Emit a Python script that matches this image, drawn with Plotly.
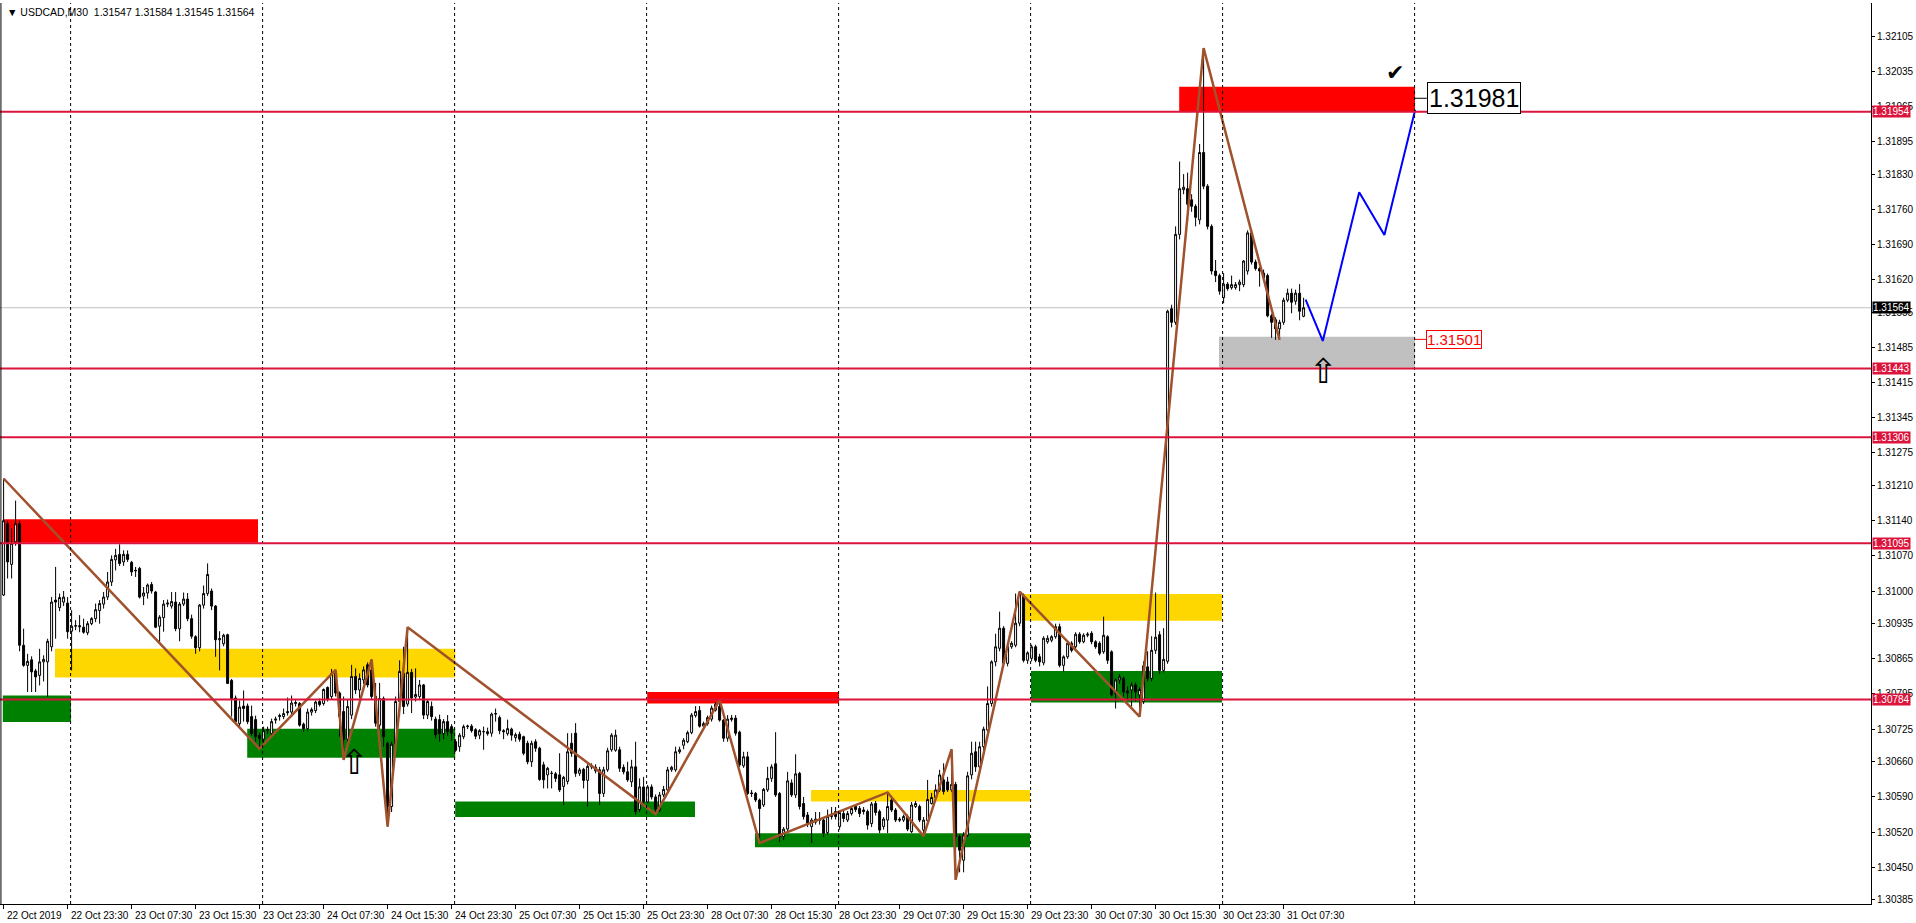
import plotly.graph_objects as go

# ---------------- data (USDCAD M30, bar index 0 = 22 Oct 15:30) ----------------
opens = [
 1.30992, 1.31134, 1.31053, 1.31098, 1.31134, 1.30892, 1.30852, 1.30863, 1.30841, 1.30832,
 1.30859, 1.30859, 1.30889, 1.30982, 1.30967, 1.30978, 1.30976, 1.30920, 1.30930, 1.30931,
 1.30928, 1.30917, 1.30935, 1.30945, 1.30961, 1.30974, 1.30988, 1.31018, 1.31062, 1.31073,
 1.31058, 1.31073, 1.31057, 1.31040, 1.31045, 1.30990, 1.30996, 1.31013, 1.30998, 1.30930,
 1.30947, 1.30974, 1.30970, 1.30978, 1.30925, 1.30974, 1.30984, 1.30945, 1.30909, 1.30887,
 1.30972, 1.30995, 1.31000, 1.30970, 1.30903, 1.30895, 1.30913, 1.30822, 1.30787, 1.30736,
 1.30771, 1.30771, 1.30750, 1.30744, 1.30713, 1.30705, 1.30722, 1.30716, 1.30743, 1.30750,
 1.30750, 1.30760, 1.30759, 1.30776, 1.30776, 1.30735, 1.30726, 1.30759, 1.30762, 1.30780,
 1.30776, 1.30808, 1.30790, 1.30836, 1.30797, 1.30760, 1.30705, 1.30753, 1.30830, 1.30803,
 1.30823, 1.30853, 1.30843, 1.30790, 1.30733, 1.30786, 1.30697, 1.30571, 1.30695, 1.30780,
 1.30836, 1.30775, 1.30838, 1.30789, 1.30790, 1.30813, 1.30753, 1.30770, 1.30745, 1.30744,
 1.30716, 1.30740, 1.30730, 1.30700, 1.30690, 1.30710, 1.30730, 1.30731, 1.30724, 1.30713,
 1.30720, 1.30720, 1.30717, 1.30755, 1.30748, 1.30722, 1.30716, 1.30725, 1.30708, 1.30715,
 1.30710, 1.30697, 1.30660, 1.30700, 1.30687, 1.30654, 1.30634, 1.30637, 1.30636, 1.30634,
 1.30611, 1.30621, 1.30697, 1.30717, 1.30637, 1.30645, 1.30623, 1.30651, 1.30649, 1.30644,
 1.30597, 1.30644, 1.30684, 1.30683, 1.30684, 1.30649, 1.30640, 1.30620, 1.30650, 1.30565,
 1.30610, 1.30580, 1.30610, 1.30590, 1.30564, 1.30594, 1.30604, 1.30644, 1.30644, 1.30680,
 1.30693, 1.30700, 1.30718, 1.30752, 1.30762, 1.30731, 1.30736, 1.30745, 1.30763, 1.30770,
 1.30743, 1.30707, 1.30744, 1.30747, 1.30719, 1.30652, 1.30670, 1.30598, 1.30597, 1.30584,
 1.30574, 1.30604, 1.30627, 1.30656, 1.30597, 1.30511, 1.30526, 1.30618, 1.30594, 1.30637,
 1.30577, 1.30554, 1.30531, 1.30540, 1.30544, 1.30544, 1.30519, 1.30551, 1.30561, 1.30531,
 1.30557, 1.30544, 1.30557, 1.30571, 1.30567, 1.30564, 1.30561, 1.30537, 1.30577, 1.30561,
 1.30531, 1.30544, 1.30584, 1.30564, 1.30546, 1.30544, 1.30551, 1.30521, 1.30571, 1.30571,
 1.30524, 1.30543, 1.30577, 1.30589, 1.30604, 1.30624, 1.30620, 1.30604, 1.30615, 1.30511,
 1.30464, 1.30514, 1.30634, 1.30680, 1.30650, 1.30690, 1.30723, 1.30776, 1.30859, 1.30886,
 1.30926, 1.30856, 1.30889, 1.30892, 1.30936, 1.30990, 1.30862, 1.30866, 1.30889, 1.30869,
 1.30857, 1.30899, 1.30902, 1.30909, 1.30929, 1.30852, 1.30869, 1.30896, 1.30889, 1.30914,
 1.30899, 1.30912, 1.30916, 1.30899, 1.30896, 1.30879, 1.30909, 1.30879, 1.30796, 1.30823,
 1.30826, 1.30801, 1.30803, 1.30813, 1.30793, 1.30780, 1.30849, 1.30826, 1.30882, 1.30913,
 1.30842, 1.30860, 1.31562, 1.31535, 1.31710, 1.31799, 1.31801, 1.31779, 1.31766, 1.31739,
 1.31873, 1.31806, 1.31726, 1.31637, 1.31628, 1.31584, 1.31611, 1.31604, 1.31604, 1.31610,
 1.31610, 1.31637, 1.31713, 1.31655, 1.31642, 1.31633, 1.31628, 1.31548, 1.31540, 1.31522,
 1.31535, 1.31579, 1.31593, 1.31577, 1.31593, 1.31547,
]
highs = [
 1.31224, 1.31140, 1.31125, 1.31180, 1.31140, 1.30925, 1.30875, 1.30870, 1.30845, 1.30885,
 1.30872, 1.30905, 1.30988, 1.31048, 1.30995, 1.31000, 1.30988, 1.30962, 1.30942, 1.30952,
 1.30945, 1.30940, 1.30948, 1.30975, 1.30982, 1.30998, 1.31038, 1.31071, 1.31084, 1.31093,
 1.31081, 1.31081, 1.31060, 1.31048, 1.31048, 1.31008, 1.31015, 1.31018, 1.31000, 1.30952,
 1.30982, 1.30983, 1.30998, 1.30998, 1.30978, 1.30997, 1.30996, 1.30953, 1.30912, 1.30974,
 1.31011, 1.31055, 1.31005, 1.30972, 1.30920, 1.30915, 1.30915, 1.30825, 1.30792, 1.30782,
 1.30802, 1.30776, 1.30772, 1.30752, 1.30718, 1.30730, 1.30730, 1.30746, 1.30750, 1.30756,
 1.30766, 1.30788, 1.30792, 1.30785, 1.30779, 1.30738, 1.30766, 1.30768, 1.30782, 1.30786,
 1.30806, 1.30810, 1.30845, 1.30843, 1.30800, 1.30790, 1.30785, 1.30853, 1.30846, 1.30836,
 1.30850, 1.30858, 1.30864, 1.30817, 1.30817, 1.30790, 1.30700, 1.30700, 1.30790, 1.30862,
 1.30889, 1.30928, 1.30845, 1.30846, 1.30823, 1.30815, 1.30785, 1.30780, 1.30750, 1.30754,
 1.30745, 1.30753, 1.30735, 1.30705, 1.30717, 1.30734, 1.30734, 1.30735, 1.30727, 1.30725,
 1.30730, 1.30728, 1.30758, 1.30766, 1.30752, 1.30725, 1.30744, 1.30728, 1.30718, 1.30720,
 1.30712, 1.30702, 1.30702, 1.30705, 1.30690, 1.30660, 1.30650, 1.30642, 1.30640, 1.30677,
 1.30632, 1.30717, 1.30717, 1.30737, 1.30648, 1.30648, 1.30655, 1.30657, 1.30655, 1.30650,
 1.30650, 1.30688, 1.30717, 1.30724, 1.30690, 1.30655, 1.30660, 1.30664, 1.30700, 1.30627,
 1.30630, 1.30614, 1.30615, 1.30595, 1.30600, 1.30612, 1.30650, 1.30652, 1.30690, 1.30690,
 1.30707, 1.30722, 1.30757, 1.30771, 1.30771, 1.30740, 1.30752, 1.30772, 1.30778, 1.30783,
 1.30745, 1.30753, 1.30753, 1.30753, 1.30722, 1.30680, 1.30680, 1.30604, 1.30600, 1.30587,
 1.30608, 1.30650, 1.30655, 1.30719, 1.30600, 1.30530, 1.30640, 1.30625, 1.30675, 1.30640,
 1.30590, 1.30560, 1.30548, 1.30560, 1.30560, 1.30548, 1.30565, 1.30570, 1.30570, 1.30562,
 1.30565, 1.30562, 1.30572, 1.30575, 1.30572, 1.30570, 1.30565, 1.30580, 1.30582, 1.30565,
 1.30550, 1.30599, 1.30590, 1.30568, 1.30550, 1.30555, 1.30555, 1.30580, 1.30582, 1.30575,
 1.30550, 1.30624, 1.30598, 1.30615, 1.30644, 1.30657, 1.30630, 1.30685, 1.30620, 1.30515,
 1.30520, 1.30640, 1.30700, 1.30700, 1.30700, 1.30730, 1.30810, 1.30862, 1.30915, 1.30959,
 1.30930, 1.30895, 1.30900, 1.30995, 1.30999, 1.30995, 1.30880, 1.30893, 1.30893, 1.30875,
 1.30910, 1.30912, 1.30912, 1.30935, 1.30935, 1.30872, 1.30900, 1.30900, 1.30918, 1.30918,
 1.30916, 1.30918, 1.30920, 1.30902, 1.30900, 1.30949, 1.30912, 1.30882, 1.30826, 1.30835,
 1.30830, 1.30810, 1.30818, 1.30818, 1.30808, 1.30860, 1.30880, 1.30910, 1.30997, 1.30920,
 1.30926, 1.31560, 1.31570, 1.31726, 1.31855, 1.31830, 1.31833, 1.31790, 1.31770, 1.31890,
 1.32081, 1.31810, 1.31730, 1.31659, 1.31632, 1.31633, 1.31615, 1.31628, 1.31615, 1.31620,
 1.31659, 1.31718, 1.31720, 1.31660, 1.31645, 1.31640, 1.31632, 1.31552, 1.31545, 1.31540,
 1.31584, 1.31602, 1.31602, 1.31600, 1.31611, 1.31584,
]
lows = [
 1.30990, 1.31025, 1.31025, 1.31090, 1.30880, 1.30849, 1.30799, 1.30799, 1.30799, 1.30812,
 1.30820, 1.30789, 1.30880, 1.30905, 1.30960, 1.30970, 1.30905, 1.30842, 1.30922, 1.30918,
 1.30915, 1.30912, 1.30932, 1.30938, 1.30935, 1.30965, 1.30982, 1.31010, 1.31041, 1.31050,
 1.31050, 1.31058, 1.31030, 1.31028, 1.30985, 1.30972, 1.30985, 1.30995, 1.30926, 1.30895,
 1.30919, 1.30968, 1.30965, 1.30920, 1.30900, 1.30970, 1.30940, 1.30905, 1.30875, 1.30880,
 1.30965, 1.30990, 1.30962, 1.30869, 1.30842, 1.30890, 1.30815, 1.30750, 1.30735, 1.30730,
 1.30740, 1.30735, 1.30712, 1.30700, 1.30686, 1.30690, 1.30715, 1.30712, 1.30736, 1.30742,
 1.30745, 1.30752, 1.30749, 1.30770, 1.30730, 1.30720, 1.30722, 1.30752, 1.30757, 1.30770,
 1.30772, 1.30780, 1.30785, 1.30790, 1.30710, 1.30664, 1.30690, 1.30745, 1.30795, 1.30787,
 1.30815, 1.30808, 1.30785, 1.30730, 1.30725, 1.30690, 1.30531, 1.30560, 1.30690, 1.30750,
 1.30755, 1.30770, 1.30757, 1.30780, 1.30785, 1.30745, 1.30745, 1.30742, 1.30707, 1.30700,
 1.30705, 1.30712, 1.30702, 1.30680, 1.30680, 1.30705, 1.30725, 1.30718, 1.30705, 1.30705,
 1.30684, 1.30712, 1.30710, 1.30740, 1.30715, 1.30705, 1.30712, 1.30702, 1.30700, 1.30700,
 1.30673, 1.30655, 1.30650, 1.30680, 1.30622, 1.30607, 1.30607, 1.30607, 1.30620, 1.30600,
 1.30574, 1.30615, 1.30670, 1.30630, 1.30632, 1.30607, 1.30571, 1.30645, 1.30637, 1.30574,
 1.30590, 1.30640, 1.30680, 1.30680, 1.30640, 1.30635, 1.30620, 1.30610, 1.30555, 1.30560,
 1.30575, 1.30577, 1.30585, 1.30556, 1.30560, 1.30590, 1.30600, 1.30640, 1.30640, 1.30676,
 1.30685, 1.30697, 1.30715, 1.30748, 1.30728, 1.30725, 1.30732, 1.30740, 1.30760, 1.30740,
 1.30700, 1.30700, 1.30740, 1.30712, 1.30650, 1.30648, 1.30594, 1.30590, 1.30580, 1.30498,
 1.30570, 1.30600, 1.30620, 1.30590, 1.30500, 1.30504, 1.30520, 1.30590, 1.30588, 1.30565,
 1.30545, 1.30530, 1.30498, 1.30535, 1.30535, 1.30510, 1.30515, 1.30545, 1.30545, 1.30525,
 1.30540, 1.30540, 1.30553, 1.30560, 1.30550, 1.30555, 1.30525, 1.30530, 1.30553, 1.30518,
 1.30525, 1.30518, 1.30560, 1.30540, 1.30540, 1.30540, 1.30522, 1.30518, 1.30568, 1.30540,
 1.30512, 1.30538, 1.30575, 1.30585, 1.30600, 1.30595, 1.30600, 1.30600, 1.30425, 1.30440,
 1.30440, 1.30510, 1.30625, 1.30640, 1.30640, 1.30680, 1.30720, 1.30770, 1.30850, 1.30880,
 1.30850, 1.30850, 1.30885, 1.30888, 1.30930, 1.30858, 1.30855, 1.30860, 1.30858, 1.30850,
 1.30852, 1.30895, 1.30898, 1.30905, 1.30848, 1.30839, 1.30865, 1.30878, 1.30885, 1.30895,
 1.30896, 1.30908, 1.30894, 1.30885, 1.30872, 1.30875, 1.30855, 1.30790, 1.30766, 1.30815,
 1.30790, 1.30783, 1.30770, 1.30780, 1.30750, 1.30775, 1.30820, 1.30820, 1.30875, 1.30835,
 1.30838, 1.30855, 1.31525, 1.31530, 1.31700, 1.31790, 1.31735, 1.31755, 1.31726, 1.31730,
 1.31800, 1.31720, 1.31630, 1.31615, 1.31590, 1.31573, 1.31598, 1.31600, 1.31600, 1.31597,
 1.31605, 1.31630, 1.31650, 1.31638, 1.31606, 1.31620, 1.31545, 1.31504, 1.31500, 1.31504,
 1.31530, 1.31575, 1.31553, 1.31570, 1.31539, 1.31545,
]
closes = [
 1.31140, 1.31058, 1.31095, 1.31134, 1.30892, 1.30852, 1.30860, 1.30839, 1.30829, 1.30859,
 1.30864, 1.30900, 1.30978, 1.30978, 1.30987, 1.30988, 1.30919, 1.30930, 1.30931, 1.30929,
 1.30918, 1.30935, 1.30945, 1.30963, 1.30975, 1.30988, 1.31018, 1.31063, 1.31071, 1.31055,
 1.31073, 1.31063, 1.31038, 1.31041, 1.30988, 1.30996, 1.31012, 1.31000, 1.30928, 1.30948,
 1.30974, 1.30976, 1.30979, 1.30925, 1.30974, 1.30984, 1.30945, 1.30910, 1.30887, 1.30972,
 1.30995, 1.31033, 1.30970, 1.30903, 1.30905, 1.30912, 1.30816, 1.30786, 1.30740, 1.30769,
 1.30766, 1.30740, 1.30716, 1.30710, 1.30706, 1.30722, 1.30724, 1.30740, 1.30745, 1.30752,
 1.30756, 1.30758, 1.30777, 1.30778, 1.30733, 1.30726, 1.30759, 1.30764, 1.30779, 1.30774,
 1.30804, 1.30784, 1.30836, 1.30797, 1.30750, 1.30705, 1.30770, 1.30830, 1.30803, 1.30826,
 1.30843, 1.30813, 1.30790, 1.30737, 1.30786, 1.30710, 1.30571, 1.30695, 1.30780, 1.30840,
 1.30770, 1.30838, 1.30787, 1.30794, 1.30813, 1.30753, 1.30780, 1.30750, 1.30714, 1.30716,
 1.30740, 1.30720, 1.30717, 1.30683, 1.30713, 1.30730, 1.30731, 1.30722, 1.30711, 1.30722,
 1.30720, 1.30716, 1.30755, 1.30756, 1.30722, 1.30720, 1.30726, 1.30713, 1.30714, 1.30705,
 1.30677, 1.30660, 1.30697, 1.30687, 1.30625, 1.30624, 1.30647, 1.30637, 1.30627, 1.30604,
 1.30629, 1.30680, 1.30677, 1.30637, 1.30644, 1.30623, 1.30651, 1.30650, 1.30642, 1.30597,
 1.30644, 1.30682, 1.30713, 1.30713, 1.30647, 1.30640, 1.30624, 1.30650, 1.30561, 1.30610,
 1.30581, 1.30610, 1.30590, 1.30566, 1.30594, 1.30605, 1.30644, 1.30649, 1.30680, 1.30684,
 1.30703, 1.30718, 1.30753, 1.30760, 1.30731, 1.30736, 1.30748, 1.30767, 1.30775, 1.30743,
 1.30707, 1.30745, 1.30747, 1.30717, 1.30654, 1.30670, 1.30597, 1.30597, 1.30584, 1.30567,
 1.30605, 1.30627, 1.30650, 1.30594, 1.30511, 1.30526, 1.30622, 1.30594, 1.30636, 1.30571,
 1.30551, 1.30537, 1.30544, 1.30546, 1.30544, 1.30518, 1.30551, 1.30553, 1.30551, 1.30559,
 1.30547, 1.30557, 1.30567, 1.30565, 1.30557, 1.30561, 1.30534, 1.30576, 1.30559, 1.30524,
 1.30546, 1.30571, 1.30564, 1.30544, 1.30544, 1.30551, 1.30526, 1.30574, 1.30577, 1.30544,
 1.30544, 1.30585, 1.30589, 1.30604, 1.30634, 1.30601, 1.30604, 1.30615, 1.30511, 1.30484,
 1.30514, 1.30632, 1.30677, 1.30650, 1.30690, 1.30725, 1.30776, 1.30859, 1.30889, 1.30926,
 1.30856, 1.30889, 1.30896, 1.30936, 1.30995, 1.30862, 1.30877, 1.30889, 1.30862, 1.30859,
 1.30906, 1.30906, 1.30909, 1.30929, 1.30852, 1.30869, 1.30896, 1.30882, 1.30914, 1.30899,
 1.30912, 1.30914, 1.30899, 1.30889, 1.30876, 1.30912, 1.30862, 1.30793, 1.30823, 1.30829,
 1.30799, 1.30797, 1.30813, 1.30799, 1.30804, 1.30851, 1.30826, 1.30882, 1.30908, 1.30842,
 1.30864, 1.31557, 1.31535, 1.31710, 1.31801, 1.31804, 1.31770, 1.31766, 1.31744, 1.31873,
 1.31806, 1.31726, 1.31637, 1.31628, 1.31597, 1.31611, 1.31602, 1.31610, 1.31610, 1.31615,
 1.31657, 1.31713, 1.31655, 1.31642, 1.31637, 1.31624, 1.31548, 1.31535, 1.31522, 1.31535,
 1.31579, 1.31593, 1.31575, 1.31593, 1.31557, 1.31564,
]
bars = list(range(len(closes)))

tick_bars = list(range(0, 321, 16))
tick_labels = ["22 Oct 2019", "22 Oct 23:30", "23 Oct 07:30", "23 Oct 15:30", "23 Oct 23:30",
               "24 Oct 07:30", "24 Oct 15:30", "24 Oct 23:30", "25 Oct 07:30", "25 Oct 15:30",
               "25 Oct 23:30", "28 Oct 07:30", "28 Oct 15:30", "28 Oct 23:30", "29 Oct 07:30",
               "29 Oct 15:30", "29 Oct 23:30", "30 Oct 07:30", "30 Oct 15:30", "30 Oct 23:30",
               "31 Oct 07:30"]
price_ticks = [1.32105, 1.32035, 1.31965, 1.31895, 1.31830, 1.31760, 1.31690, 1.31620, 1.31555,
               1.31485, 1.31415, 1.31345, 1.31275, 1.31210, 1.31140, 1.31070, 1.31000, 1.30935,
               1.30865, 1.30795, 1.30725, 1.30660, 1.30590, 1.30520, 1.30450, 1.30385]

day_separator_bars = [17, 65, 113, 161, 209, 257, 305, 353]
level_prices = [1.31954, 1.31443, 1.31306, 1.31095, 1.30784]
current_price = 1.31564

zone_start = [-0.2, 12.85, -0.2, 60.9, 112.9, 160.9, 201.85, 187.85, 254.85, 256.85, 293.9, 303.85]
zone_end = [63.6, 112.9, 16.85, 112.9, 172.85, 208.85, 256.6, 256.6, 304.6, 304.6, 352.85, 352.85]
zone_low = [1.31096, 1.30828, 1.30739, 1.30668, 1.30550, 1.30776, 1.30581, 1.30490, 1.30941, 1.30778, 1.31955, 1.31445]
zone_high = [1.31143, 1.30885, 1.30792, 1.30726, 1.30581, 1.30799, 1.30604, 1.30518, 1.30994, 1.30841, 1.32004, 1.31506]
zone_kind = ["supply", "mid", "demand", "demand", "demand", "supply", "mid", "demand", "mid", "demand", "supply", "target"]

zigzag_bars = [0, 64, 83, 85, 92, 96, 101, 163, 179, 189, 221, 230, 237, 238, 254, 284, 300, 319]
zigzag_prices = [1.31224, 1.30686, 1.30843, 1.30664, 1.30864, 1.30531, 1.30928, 1.30556, 1.30783,
                 1.30498, 1.30599, 1.30512, 1.30685, 1.30425, 1.30999, 1.30750, 1.32081, 1.31500]

forecast_bars = [325.5, 329.8, 338.9, 345.2, 352.9]
forecast_prices = [1.31580, 1.31498, 1.31794, 1.31709, 1.31958]

target_price = 1.31981
support_price = 1.31501
arrow_bars = [87.8, 330.0]
arrow_prices = [1.30660, 1.31438]
check_bar, check_price = 347.9, 1.32033
header = "▼ USDCAD,M30  1.31547 1.31584 1.31545 1.31564"

# ---------------- figure ----------------
zone_colors = {"supply": "#FF0000", "mid": "#FFD700", "demand": "#008000", "target": "#C0C0C0"}
CRIMSON = "#DC143C"
FONT = "Liberation Sans"

fig = go.Figure()
fig.add_trace(go.Candlestick(
    x=bars, open=opens, high=highs, low=lows, close=closes,
    increasing=dict(line=dict(color="black", width=1), fillcolor="white"),
    decreasing=dict(line=dict(color="black", width=1), fillcolor="black"),
    whiskerwidth=0, hoverinfo="skip", showlegend=False))
fig.add_trace(go.Scatter(x=zigzag_bars, y=zigzag_prices, mode="lines",
                         line=dict(color="#A0522D", width=2.5), hoverinfo="skip", showlegend=False))
fig.add_trace(go.Scatter(x=forecast_bars, y=forecast_prices, mode="lines",
                         line=dict(color="#0000FF", width=2), hoverinfo="skip", showlegend=False))

shapes = []
for x0, x1, lo, hi, kind in zip(zone_start, zone_end, zone_low, zone_high, zone_kind):
    shapes.append(dict(type="rect", xref="x", yref="y", x0=x0, x1=x1, y0=lo, y1=hi,
                       fillcolor=zone_colors[kind], line=dict(width=0), layer="below"))
for b in day_separator_bars:
    shapes.append(dict(type="line", xref="x", yref="paper", x0=b - 0.25, x1=b - 0.25, y0=0, y1=1,
                       line=dict(color="black", width=1, dash="3px,3px"), layer="above"))
shapes.append(dict(type="line", xref="paper", yref="y", x0=0, x1=1, y0=current_price, y1=current_price,
                   line=dict(color="#C0C0C0", width=1), layer="below"))
for p in level_prices:
    shapes.append(dict(type="line", xref="paper", yref="y", x0=0, x1=1, y0=p, y1=p,
                       line=dict(color=CRIMSON, width=2), layer="above"))
shapes.append(dict(type="line", xref="x", yref="y", x0=352.85, x1=355.8, y0=target_price, y1=target_price,
                   line=dict(color="black", width=1)))
shapes.append(dict(type="line", xref="x", yref="y", x0=352.85, x1=355.6, y0=support_price, y1=support_price,
                   line=dict(color="red", width=1)))
shapes.append(dict(type="line", xref="paper", yref="paper", x0=0.0005, x1=0.0005, y0=0, y1=1,
                   line=dict(color="black", width=1)))

annotations = []
annotations.append(dict(xref="paper", yref="paper", x=0, y=1, xanchor="left", yanchor="top",
                        xshift=5, yshift=-1, text=header, showarrow=False,
                        font=dict(family=FONT, size=10.5, color="black")))
for p in level_prices:
    annotations.append(dict(xref="paper", yref="y", x=1, y=p, xanchor="left", yanchor="middle",
                            xshift=1, text=f"{p:.5f}", showarrow=False, bgcolor=CRIMSON, borderpad=0,
                            font=dict(family=FONT, size=10, color="white")))
annotations.append(dict(xref="paper", yref="y", x=1, y=current_price, xanchor="left", yanchor="middle",
                        xshift=1, text=f"{current_price:.5f}", showarrow=False, bgcolor="black", borderpad=0,
                        font=dict(family=FONT, size=10, color="white")))
annotations.append(dict(xref="x", yref="y", x=355.8, y=target_price, xanchor="left", yanchor="middle",
                        text=f"{target_price:.5f}", showarrow=False, bgcolor="white",
                        bordercolor="black", borderwidth=1, borderpad=1,
                        font=dict(family=FONT, size=25, color="black")))
annotations.append(dict(xref="x", yref="y", x=355.6, y=support_price, xanchor="left", yanchor="middle",
                        text=f"{support_price:.5f}", showarrow=False, bgcolor="white",
                        bordercolor="red", borderwidth=1, borderpad=0,
                        font=dict(family=FONT, size=15, color="red")))
for b, p in zip(arrow_bars, arrow_prices):
    annotations.append(dict(xref="x", yref="y", x=b, y=p, text="⇧", showarrow=False,
                            font=dict(family="DejaVu Sans", size=34, color="black")))
annotations.append(dict(xref="x", yref="y", x=check_bar, y=check_price, text="✔", showarrow=False,
                        font=dict(family="DejaVu Sans", size=22, color="black")))
# time-axis labels, left-aligned at their ticks just under the axis line
for b, lab in zip(tick_bars, tick_labels):
    annotations.append(dict(xref="x", yref="paper", x=b, y=0, xanchor="left", yanchor="top",
                            xshift=1, yshift=-4, text=lab, showarrow=False,
                            font=dict(family=FONT, size=10, color="black")))

fig.update_layout(
    width=1916, height=923,
    margin=dict(l=0, r=45, t=3, b=19, autoexpand=False),
    paper_bgcolor="white", plot_bgcolor="white",
    showlegend=False, shapes=shapes, annotations=annotations,
    font=dict(family=FONT, size=10, color="black"),
    xaxis=dict(range=[-0.9, 466.85], showgrid=False, zeroline=False, showline=True,
               linecolor="black", linewidth=1, ticks="outside", ticklen=4, tickcolor="black",
               tickvals=tick_bars, showticklabels=False,
               rangeslider=dict(visible=False), fixedrange=True),
    yaxis=dict(side="right", range=[1.303769, 1.321707], showgrid=False, zeroline=False,
               showline=True, linecolor="black", linewidth=1, ticks="outside", ticklen=3,
               tickcolor="black", tickvals=price_ticks, tickformat=".5f",
               tickfont=dict(family=FONT, size=10, color="black"), fixedrange=True),
)

fig.write_html("out.html", config={"displayModeBar": False},
               post_script="document.body.style.margin='0';document.body.style.overflow='hidden';")
